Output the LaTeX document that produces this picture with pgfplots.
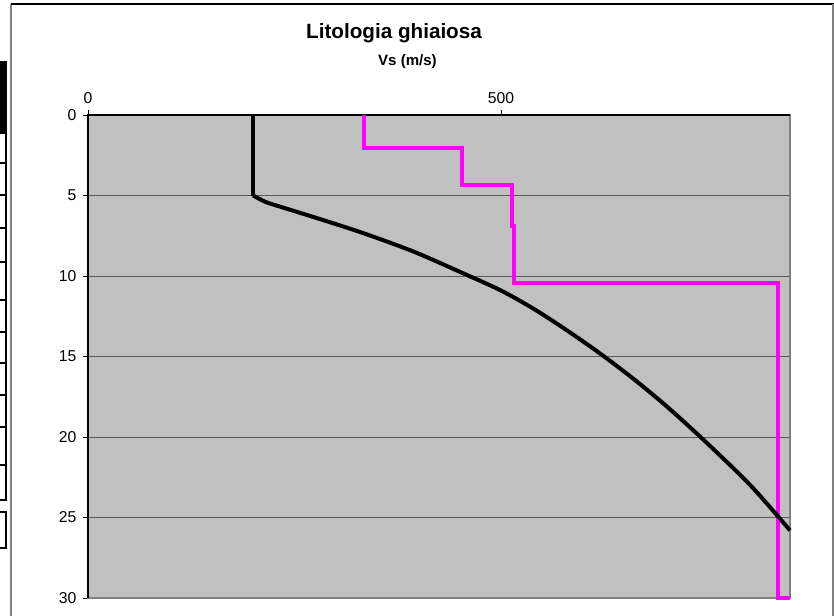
\documentclass[border=0pt]{standalone}
\usepackage{pgfplots}
\pgfplotsset{compat=1.18}
\usepackage{fontspec}
\setmainfont{Liberation Sans}
\definecolor{bggray}{HTML}{C0C0C0}
\definecolor{bordgray}{HTML}{808080}
\definecolor{gridgray}{HTML}{5A5A5A}
\definecolor{vsmag}{HTML}{FF00FF}
\begin{document}
\begin{tikzpicture}
\path[use as bounding box] (0,0) rectangle (625.5pt,462pt);
% chart frame
\draw[bordgray, line width=1.2pt] (8.25pt,0) -- (8.25pt,459pt);
\draw[black, line width=1pt] (8.25pt,459pt) -- (625.5pt,459pt);
\draw[bordgray, line width=1.2pt] (624.75pt,459pt) -- (624.75pt,0);
% cut-off boxes on the left
\begin{scope}[x=0.75pt,y=-0.75pt,yshift=462pt]
\fill[black] (-2,61) rectangle (7,133);
\draw[black, line width=1.8pt] (-2,133) rectangle (6,465);
\foreach \yy in {163,195,228,262,300,332,363,395,427}
  \draw[black, line width=1.8pt] (-2,\yy) -- (6,\yy);
\draw[black, line width=0.9pt] (-2,465) rectangle (6,500);
\draw[black, line width=2pt] (-2,512) rectangle (6,548);
\end{scope}
\node[anchor=base, font=\bfseries\fontsize{15.5}{18}\selectfont] at (295.5pt,432.75pt) {Litologia ghiaiosa};
\node[anchor=base, font=\bfseries\fontsize{11.3}{13}\selectfont] at (305.6pt,412.5pt) {Vs (m/s)};
\begin{axis}[
  at={(66pt,13.5pt)}, anchor=south west,
  scale only axis,
  width=526.5pt, height=362.25pt,
  xmin=0, xmax=850, ymin=0, ymax=30,
  y dir=reverse,
  clip=false,
  axis background/.style={fill=bggray},
  axis line style={draw=bordgray, line width=1.5pt},
  xtick={0,500}, ytick={0,5,...,30},
  xtick pos=right, xticklabel pos=right, ytick pos=left,
  tick align=outside,
  major tick length=3.75pt,
  tick style={black, line width=0.6pt},
  ymajorgrids,
  grid style={gridgray, line width=0.75pt},
  tick label style={font=\fontsize{11.8}{13}\selectfont},
  yticklabel style={xshift=-1.5pt},
  xticklabel style={yshift=1.5pt},
  /pgf/number format/assume math mode=true,
]
\draw[black, line width=0.8pt] (rel axis cs:0,0) -- (rel axis cs:0,1) -- (rel axis cs:1,1);
\addplot[vsmag, line width=3pt] coordinates {
  (334,0) (334,2.03) (453,2.03) (453,4.35) (513,4.35) (513,6.9)
  (516,6.9) (516,10.45) (835,10.45) (835,30) (850,30)
};
\addplot[black, line width=3pt, forget plot] coordinates {(200,0) (200,5)};
\addplot[black, line width=3pt, smooth, tension=0.5] coordinates {
  (200,5) (215,5.4) (233,5.7) (280,6.45) (334,7.35) (395,8.5)
  (455,9.85) (500,10.9) (540,12.05) (580,13.38) (621,14.85) (662,16.45)
  (703,18.2) (751,20.45) (803,23.05) (850,25.8)
};
\end{axis}
\end{tikzpicture}
\end{document}
